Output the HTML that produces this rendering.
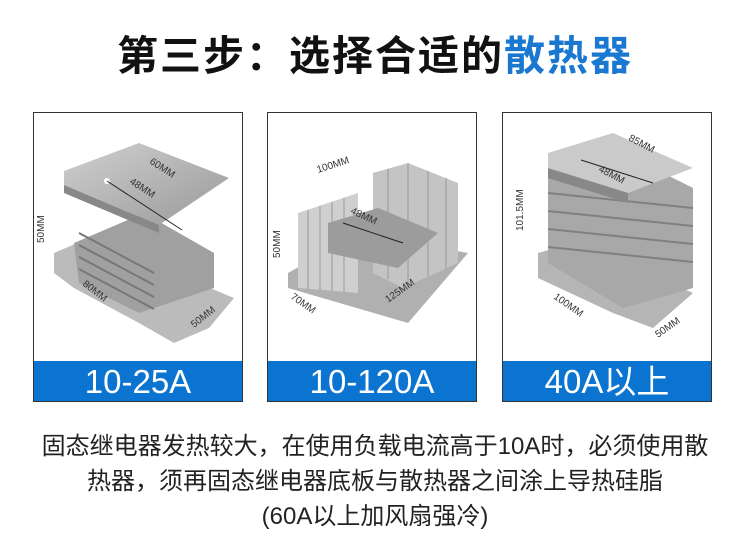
<!DOCTYPE html>
<html><head><meta charset="utf-8"><style>
body{margin:0;width:750px;height:552px;background:#fff;overflow:hidden;font-family:"Liberation Sans","Noto Sans CJK SC",sans-serif;position:relative}
.t{position:absolute;top:22px;left:0;width:750px;text-align:center;font-size:41px;font-weight:bold;color:#111;letter-spacing:2px}
.t span{color:#1a78d0}
.p{position:absolute;top:112px;width:208px;height:288px;border:1px solid #333;background:#fff}
.b{position:absolute;left:0;bottom:0;width:100%;height:40px;background:#0a74d0;color:#fff;font-size:33px;text-align:center;line-height:42px}
.d{position:absolute;left:0;width:750px;text-align:center;font-size:24px;color:#222;line-height:28px}
svg{position:absolute;left:0;top:0}
svg text{font-family:"Liberation Sans",sans-serif;font-size:10px;fill:#333}
</style></head><body>
<div class="t">第三步：选择合适的<span>散热器</span></div>

<div class="p" style="left:33px">
<svg width="208" height="248">
<defs><linearGradient id="g" x1="0" y1="0" x2="1" y2="1"><stop offset="0" stop-color="#d0d0d0"/><stop offset="1" stop-color="#999"/></linearGradient></defs>
<polygon points="20,140 55,125 200,185 175,215 140,230 105,210 40,175 20,160" fill="#bbb"/>
<polygon points="40,130 110,100 180,140 180,175 105,200 45,170" fill="#a0a0a0"/>
<g stroke="#777" stroke-width="2"><line x1="45" y1="120" x2="120" y2="160"/><line x1="45" y1="132" x2="120" y2="172"/><line x1="45" y1="144" x2="120" y2="184"/><line x1="45" y1="156" x2="120" y2="196"/></g>
<polygon points="30,58 105,30 195,65 125,112 30,72" fill="url(#g)"/>
<polygon points="30,72 125,112 125,120 30,80" fill="#888"/>
<circle cx="73" cy="68" r="3" fill="#fff"/><circle cx="148" cy="117" r="3" fill="#fff"/>
<line x1="73" y1="68" x2="148" y2="117" stroke="#222"/>
<text x="115" y="50" transform="rotate(33 115 50)">60MM</text>
<text x="95" y="70" transform="rotate(33 95 70)">48MM</text>
<text x="10" y="130" transform="rotate(-90 10 130)">50MM</text>
<text x="48" y="172" transform="rotate(38 48 172)">80MM</text>
<text x="160" y="215" transform="rotate(-38 160 215)">50MM</text>
</svg>
<div class="b">10-25A</div></div>

<div class="p" style="left:267px">
<svg width="208" height="248">
<polygon points="20,160 90,120 200,140 140,210 20,175" fill="#b0b0b0"/>
<polygon points="30,100 90,80 90,180 30,175" fill="#cfcfcf"/>
<g stroke="#999"><line x1="40" y1="97" x2="40" y2="176"/><line x1="52" y1="93" x2="52" y2="177"/><line x1="64" y1="89" x2="64" y2="178"/><line x1="76" y1="85" x2="76" y2="179"/></g>
<polygon points="105,60 140,50 190,70 190,150 135,175 105,160" fill="#c4c4c4"/>
<g stroke="#999"><line x1="120" y1="56" x2="120" y2="166"/><line x1="140" y1="50" x2="140" y2="172"/><line x1="160" y1="58" x2="160" y2="164"/><line x1="178" y1="65" x2="178" y2="156"/></g>
<polygon points="60,110 110,95 170,120 130,155 60,140" fill="#9c9c9c"/>
<line x1="75" y1="110" x2="135" y2="130" stroke="#222"/>
<text x="50" y="60" transform="rotate(-18 50 60)">100MM</text>
<text x="82" y="100" transform="rotate(25 82 100)">48MM</text>
<text x="12" y="145" transform="rotate(-90 12 145)">50MM</text>
<text x="22" y="185" transform="rotate(35 22 185)">70MM</text>
<text x="120" y="190" transform="rotate(-35 120 190)">125MM</text>
</svg>
<div class="b">10-120A</div></div>

<div class="p" style="left:502px">
<svg width="208" height="248">
<polygon points="35,140 70,130 190,180 150,215 110,200 35,165" fill="#b5b5b5"/>
<polygon points="45,60 120,40 190,75 190,175 120,195 45,150" fill="#a8a8a8"/>
<g stroke="#808080" stroke-width="2"><line x1="45" y1="80" x2="190" y2="95"/><line x1="45" y1="98" x2="190" y2="113"/><line x1="45" y1="116" x2="190" y2="131"/><line x1="45" y1="134" x2="190" y2="149"/></g>
<polygon points="45,40 110,20 190,55 125,80 45,55" fill="#cacaca"/>
<polygon points="45,55 125,80 125,90 45,65" fill="#888"/>
<line x1="78" y1="47" x2="150" y2="70" stroke="#222"/>
<text x="125" y="27" transform="rotate(28 125 27)">85MM</text>
<text x="95" y="58" transform="rotate(28 95 58)">48MM</text>
<text x="20" y="118" transform="rotate(-90 20 118)">101.5MM</text>
<text x="50" y="185" transform="rotate(35 50 185)">100MM</text>
<text x="155" y="225" transform="rotate(-35 155 225)">50MM</text>
</svg>
<div class="b">40A以上</div></div>

<div class="d" style="top:433px">固态继电器发热较大，在使用负载电流高于10A时，必须使用散</div>
<div class="d" style="top:468px">热器，须再固态继电器底板与散热器之间涂上导热硅脂</div>
<div class="d" style="top:503px">(60A以上加风扇强冷)</div>
</body></html>
